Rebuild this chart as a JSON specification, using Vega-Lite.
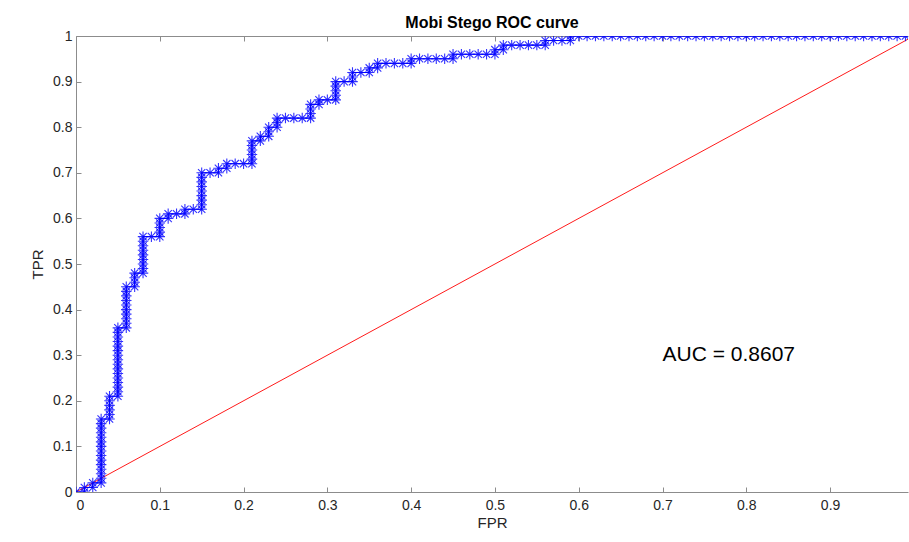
{
  "$schema": "https://vega.github.io/schema/vega-lite/v6.json",
  "width": 832,
  "height": 456,
  "autosize": "none",
  "padding": {"left": 76, "top": 36, "right": 1, "bottom": 50},
  "background": "white",
  "config": {
    "view": {"stroke": null},
    "font": "Liberation Sans",
    "axis": {
      "domainColor": "#8c8c8c",
      "tickColor": "#8c8c8c",
      "labelColor": "#262626",
      "titleColor": "#262626",
      "labelFont": "Liberation Sans",
      "titleFont": "Liberation Sans",
      "labelFontSize": 14,
      "titleFontSize": 15,
      "titleFontWeight": "normal",
      "grid": false
    }
  },
  "title": {
    "text": "Mobi Stego ROC curve",
    "font": "Liberation Sans",
    "fontSize": 16,
    "fontWeight": "bold",
    "color": "#000000",
    "anchor": "middle",
    "offset": -2
  },
  "datasets": {
    "roc": [
      {"f":0,"t":0},{"f":0.01,"t":0},{"f":0.01,"t":0.01},{"f":0.02,"t":0.01},{"f":0.02,"t":0.02},{"f":0.03,"t":0.02},
      {"f":0.03,"t":0.03},{"f":0.03,"t":0.04},{"f":0.03,"t":0.05},{"f":0.03,"t":0.06},{"f":0.03,"t":0.07},{"f":0.03,"t":0.08},{"f":0.03,"t":0.09},{"f":0.03,"t":0.10},{"f":0.03,"t":0.11},{"f":0.03,"t":0.12},{"f":0.03,"t":0.13},{"f":0.03,"t":0.14},{"f":0.03,"t":0.15},{"f":0.03,"t":0.16},
      {"f":0.04,"t":0.16},{"f":0.04,"t":0.17},{"f":0.04,"t":0.18},{"f":0.04,"t":0.19},{"f":0.04,"t":0.20},{"f":0.04,"t":0.21},
      {"f":0.05,"t":0.21},{"f":0.05,"t":0.22},{"f":0.05,"t":0.23},{"f":0.05,"t":0.24},{"f":0.05,"t":0.25},{"f":0.05,"t":0.26},{"f":0.05,"t":0.27},{"f":0.05,"t":0.28},{"f":0.05,"t":0.29},{"f":0.05,"t":0.30},{"f":0.05,"t":0.31},{"f":0.05,"t":0.32},{"f":0.05,"t":0.33},{"f":0.05,"t":0.34},{"f":0.05,"t":0.35},{"f":0.05,"t":0.36},
      {"f":0.06,"t":0.36},{"f":0.06,"t":0.37},{"f":0.06,"t":0.38},{"f":0.06,"t":0.39},{"f":0.06,"t":0.40},{"f":0.06,"t":0.41},{"f":0.06,"t":0.42},{"f":0.06,"t":0.43},{"f":0.06,"t":0.44},{"f":0.06,"t":0.45},
      {"f":0.07,"t":0.45},{"f":0.07,"t":0.46},{"f":0.07,"t":0.47},{"f":0.07,"t":0.48},
      {"f":0.08,"t":0.48},{"f":0.08,"t":0.49},{"f":0.08,"t":0.50},{"f":0.08,"t":0.51},{"f":0.08,"t":0.52},{"f":0.08,"t":0.53},{"f":0.08,"t":0.54},{"f":0.08,"t":0.55},{"f":0.08,"t":0.56},
      {"f":0.09,"t":0.56},
      {"f":0.10,"t":0.56},{"f":0.10,"t":0.57},{"f":0.10,"t":0.58},{"f":0.10,"t":0.59},{"f":0.10,"t":0.60},
      {"f":0.11,"t":0.60},{"f":0.11,"t":0.61},{"f":0.12,"t":0.61},{"f":0.13,"t":0.61},{"f":0.13,"t":0.62},{"f":0.14,"t":0.62},{"f":0.15,"t":0.62},
      {"f":0.15,"t":0.63},{"f":0.15,"t":0.64},{"f":0.15,"t":0.65},{"f":0.15,"t":0.66},{"f":0.15,"t":0.67},{"f":0.15,"t":0.68},{"f":0.15,"t":0.69},{"f":0.15,"t":0.70},
      {"f":0.16,"t":0.70},{"f":0.17,"t":0.70},{"f":0.17,"t":0.71},{"f":0.18,"t":0.71},{"f":0.18,"t":0.72},{"f":0.19,"t":0.72},{"f":0.20,"t":0.72},{"f":0.21,"t":0.72},
      {"f":0.21,"t":0.73},{"f":0.21,"t":0.74},{"f":0.21,"t":0.75},{"f":0.21,"t":0.76},{"f":0.21,"t":0.77},
      {"f":0.22,"t":0.77},{"f":0.22,"t":0.78},{"f":0.23,"t":0.78},{"f":0.23,"t":0.79},{"f":0.23,"t":0.80},{"f":0.24,"t":0.80},{"f":0.24,"t":0.81},{"f":0.24,"t":0.82},
      {"f":0.25,"t":0.82},{"f":0.26,"t":0.82},{"f":0.27,"t":0.82},{"f":0.28,"t":0.82},{"f":0.28,"t":0.83},{"f":0.28,"t":0.84},{"f":0.28,"t":0.85},{"f":0.29,"t":0.85},{"f":0.29,"t":0.86},{"f":0.30,"t":0.86},{"f":0.31,"t":0.86},
      {"f":0.31,"t":0.87},{"f":0.31,"t":0.88},{"f":0.31,"t":0.89},{"f":0.31,"t":0.90},{"f":0.32,"t":0.90},{"f":0.33,"t":0.90},{"f":0.33,"t":0.91},{"f":0.33,"t":0.92},{"f":0.34,"t":0.92},{"f":0.35,"t":0.92},{"f":0.35,"t":0.93},{"f":0.36,"t":0.93},{"f":0.36,"t":0.94},
      {"f":0.37,"t":0.94},{"f":0.38,"t":0.94},{"f":0.39,"t":0.94},{"f":0.40,"t":0.94},{"f":0.40,"t":0.95},{"f":0.41,"t":0.95},{"f":0.42,"t":0.95},{"f":0.43,"t":0.95},{"f":0.44,"t":0.95},{"f":0.45,"t":0.95},{"f":0.45,"t":0.96},
      {"f":0.46,"t":0.96},{"f":0.47,"t":0.96},{"f":0.48,"t":0.96},{"f":0.49,"t":0.96},{"f":0.50,"t":0.96},{"f":0.50,"t":0.97},{"f":0.51,"t":0.97},{"f":0.51,"t":0.98},
      {"f":0.52,"t":0.98},{"f":0.53,"t":0.98},{"f":0.54,"t":0.98},{"f":0.55,"t":0.98},{"f":0.56,"t":0.98},{"f":0.56,"t":0.99},{"f":0.57,"t":0.99},{"f":0.58,"t":0.99},{"f":0.59,"t":0.99},{"f":0.59,"t":1},
      {"f":0.60,"t":1},{"f":0.61,"t":1},{"f":0.62,"t":1},{"f":0.63,"t":1},{"f":0.64,"t":1},{"f":0.65,"t":1},{"f":0.66,"t":1},{"f":0.67,"t":1},{"f":0.68,"t":1},{"f":0.69,"t":1},
      {"f":0.70,"t":1},{"f":0.71,"t":1},{"f":0.72,"t":1},{"f":0.73,"t":1},{"f":0.74,"t":1},{"f":0.75,"t":1},{"f":0.76,"t":1},{"f":0.77,"t":1},{"f":0.78,"t":1},{"f":0.79,"t":1},
      {"f":0.80,"t":1},{"f":0.81,"t":1},{"f":0.82,"t":1},{"f":0.83,"t":1},{"f":0.84,"t":1},{"f":0.85,"t":1},{"f":0.86,"t":1},{"f":0.87,"t":1},{"f":0.88,"t":1},{"f":0.89,"t":1},
      {"f":0.90,"t":1},{"f":0.91,"t":1},{"f":0.92,"t":1},{"f":0.93,"t":1},{"f":0.94,"t":1},{"f":0.95,"t":1},{"f":0.96,"t":1},{"f":0.97,"t":1},{"f":0.98,"t":1},{"f":0.99,"t":1},{"f":1,"t":1}
    ],
    "diag": [{"f":0,"t":0},{"f":1,"t":1}],
    "auc": [{"f":0.70,"t":0.30,"label":"AUC = 0.8607"}]
  },
  "encoding": {
    "y": {
      "field": "t",
      "type": "quantitative",
      "scale": {"domain": [0, 1], "nice": false, "zero": false},
      "axis": {
        "title": "TPR",
        "values": [0,0.1,0.2,0.3,0.4,0.5,0.6,0.7,0.8,0.9,1],
        "format": "~g",
        "tickSize": -5,
        "labelPadding": 9,
        "titlePadding": 7
      }
    }
  },
  "layer": [
    {
      "data": {"name": "diag"},
      "mark": {"type": "line", "color": "#ff0000", "strokeWidth": 0.9, "clip": true},
      "encoding": {
        "x": {
          "field": "f",
          "type": "quantitative",
          "scale": {"domain": [0, 0.993], "nice": false, "zero": false},
          "axis": {
            "title": "FPR",
            "orient": "bottom",
            "values": [0,0.1,0.2,0.3,0.4,0.5,0.6,0.7,0.8,0.9],
            "format": "~g",
            "tickSize": -5,
            "labelPadding": 11,
            "titlePadding": 3
          }
        }
      }
    },
    {
      "data": {"name": "roc"},
      "mark": {"type": "line", "color": "#0000ff", "strokeWidth": 1, "clip": true},
      "encoding": {
        "x": {
          "field": "f",
          "type": "quantitative",
          "scale": {"domain": [0, 0.993], "nice": false, "zero": false},
          "axis": {
            "title": null,
            "orient": "top",
            "values": [0,0.1,0.2,0.3,0.4,0.5,0.6,0.7,0.8,0.9],
            "labels": false,
            "tickSize": -5
          }
        },
        "order": {"value": null}
      }
    },
    {
      "data": {"name": "roc"},
      "mark": {
        "type": "point",
        "shape": "M-1,0L1,0M0,-1L0,1M-0.7,-0.7L0.7,0.7M-0.7,0.7L0.7,-0.7",
        "filled": false,
        "color": "#0000ff",
        "strokeWidth": 1.1,
        "size": 110,
        "opacity": 0.8,
        "clip": true
      },
      "encoding": {
        "x": {
          "field": "f",
          "type": "quantitative",
          "scale": {"domain": [0, 0.993], "nice": false, "zero": false},
          "axis": null
        }
      }
    },
    {
      "data": {"name": "auc"},
      "mark": {"type": "text", "align": "left", "baseline": "middle", "fontSize": 21, "font": "Liberation Sans", "color": "#000000"},
      "encoding": {
        "x": {
          "field": "f",
          "type": "quantitative",
          "scale": {"domain": [0, 0.993], "nice": false, "zero": false},
          "axis": null
        },
        "text": {"field": "label"}
      }
    }
  ],
  "resolve": {"axis": {"x": "independent"}}
}
